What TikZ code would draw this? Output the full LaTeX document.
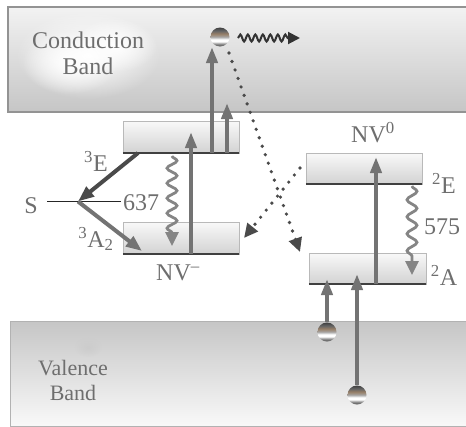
\documentclass[tikz,border=0pt]{standalone}
\usepackage{fontspec}
\setmainfont{Liberation Serif}
\usetikzlibrary{arrows.meta,decorations.pathmorphing,fadings}
\definecolor{txt}{HTML}{6E6E6E}
\definecolor{arr}{HTML}{737373}
\definecolor{dark}{HTML}{4A4A4A}
\definecolor{wave}{HTML}{858585}
\tikzfading[name=fuzzy, inner color=transparent!0, outer color=transparent!100]
\pgfdeclareverticalshading{ballshade}{100bp}{color(0bp)=(black!70); color(25bp)=(black!70); color(32bp)=(gray!90); color(38bp)=(white); color(44bp)=(white); color(50bp)=(gray!70); color(58bp)=(brown!40!gray); color(66bp)=(gray!80!black); color(75bp)=(black!75); color(100bp)=(black!75)}
\begin{document}
\begin{tikzpicture}[x=1pt,y=-1pt,
  lbl/.style={text=txt,font=\fontsize{24}{26}\selectfont,inner sep=0pt},
  bandlbl/.style={text=txt,align=center,inner sep=0pt},
  band/.style={draw=gray!85, line width=1.6pt, rectangle, inner sep=0pt},
  lvl/.style={draw=gray!55, line width=0.5pt, rectangle, top color=gray!5, bottom color=gray!35, minimum width=116pt, minimum height=32pt, inner sep=0pt},
  lvlline/.style={draw=black!75, line width=1.8pt},
  uparr/.style={draw=arr, line width=4pt, -{Triangle[length=16pt,width=11pt]}},
  darkarr/.style={draw=dark, line width=4pt, -{Triangle[length=16pt,width=12pt]}},
  lightarr/.style={draw=arr, line width=4pt, -{Triangle[length=16pt,width=12pt]}},
  dotarr/.style={draw=dark, line width=3.6pt, line cap=round, dash pattern=on 0pt off 9pt, -{Triangle[length=14pt,width=13pt]}},
  wavearr/.style={draw=wave, line width=2.8pt, -{Triangle[length=14pt,width=13pt]}, decorate, decoration={snake, amplitude=5pt, segment length=15pt, post length=13pt}},
  ball/.style={circle, minimum size=19pt, inner sep=0pt, shade, shading=ballshade},
  thinline/.style={draw=black!85, line width=0.9pt}
]
\clip (0,0) rectangle (466,426);
% bands
\node[band, top color=gray!10, bottom color=gray!45, minimum width=472pt, minimum height=105pt] (CB) at (244,59.5) {};
\node[band, draw=gray!60, line width=1pt, top color=gray!45, bottom color=gray!5, minimum width=470pt, minimum height=105pt] (VB) at (245,373.5) {};
% cloud
\fill[white, path fading=fuzzy] (88,55) ellipse [x radius=72pt, y radius=44pt];
\fill[white, path fading=fuzzy] (70,62) ellipse [x radius=48pt, y radius=32pt];
\fill[white, path fading=fuzzy] (115,45) ellipse [x radius=42pt, y radius=27pt];
\fill[black!20, path fading=fuzzy] (88,347) ellipse [x radius=14pt, y radius=10pt];
\node[bandlbl, font=\fontsize{24}{26}\selectfont] (CBt) at (88,53) {Conduction\\Band};
\node[bandlbl, font=\fontsize{22}{25}\selectfont] (VBt) at (73,380) {Valence\\Band};
% levels
\node[lvl] (E3) at (181,137) {};
\node[lvl] (A3) at (181,238) {};
\node[lvl, minimum height=31pt] (E2) at (364,168.5) {};
\node[lvl, minimum height=31pt, minimum width=117pt] (A2) at (367.5,268.5) {};
\foreach \b in {E3,A3,E2,A2} \draw[lvlline] (\b.south west) -- (\b.south east);
% coordinates
\coordinate (J) at (78,201.5);
\coordinate (Sl) at (47,201.5);
\coordinate (Sr) at (121,201.5);
\coordinate (e3o) at (138,153);
\coordinate (a3i) at (142,251);
\node[ball] (el) at (220,37) {};
\node[ball] (h1) at (327,332) {};
\node[ball] (h2) at (357,395) {};
% S line
\draw[thinline] (Sl) -- (Sr);
% NV- arrows
\draw[wavearr] (172,156) -- (172,246);
\draw[uparr] (191,254) -- (191,132);
\draw[uparr] (212,153) -- (212,47);
\draw[uparr] (227,153) -- (227,103);
\draw[darkarr] (e3o) -- (J);
\draw[lightarr] (J) -- (a3i);
% dotted
\draw[dotarr] (229,53) -- (300,252);
\draw[dotarr] (300,168) -- (244,238);
% electron wave
\draw[draw=black!80, line width=2pt, decorate, decoration={snake, amplitude=3.5pt, segment length=7.5pt, post length=12pt}, -{Triangle[length=12pt,width=12pt]}] (238,38) -- (300,38);
% NV0 arrows
\draw[uparr] (376,284) -- (376,157);
\draw[wavearr, decoration={snake, amplitude=5pt, segment length=17pt, post length=13pt}] (412,186) -- (412,275);
\draw[uparr] (h1.north) -- (327,279);
\draw[uparr] (h2.north) -- (357,274);
% labels
\node[lbl] (S) at (31,206) {S};
\node[lbl] (l637) at (141,203) {637};
\node[lbl] (l3E) at (96,161) {\textsuperscript{3}E};
\node[lbl] (l3A) at (96,239) {\textsuperscript{3}A\textsubscript{2}};
\node[lbl] (NVm) at (178,273) {NV\textsuperscript{–}};
\node[lbl] (NV0) at (373,133) {NV\textsuperscript{0}};
\node[lbl] (l2E) at (444,183) {\textsuperscript{2}E};
\node[lbl] (l575) at (442,227) {575};
\node[lbl] (l2A) at (444,275) {\textsuperscript{2}A};
\end{tikzpicture}
\end{document}
